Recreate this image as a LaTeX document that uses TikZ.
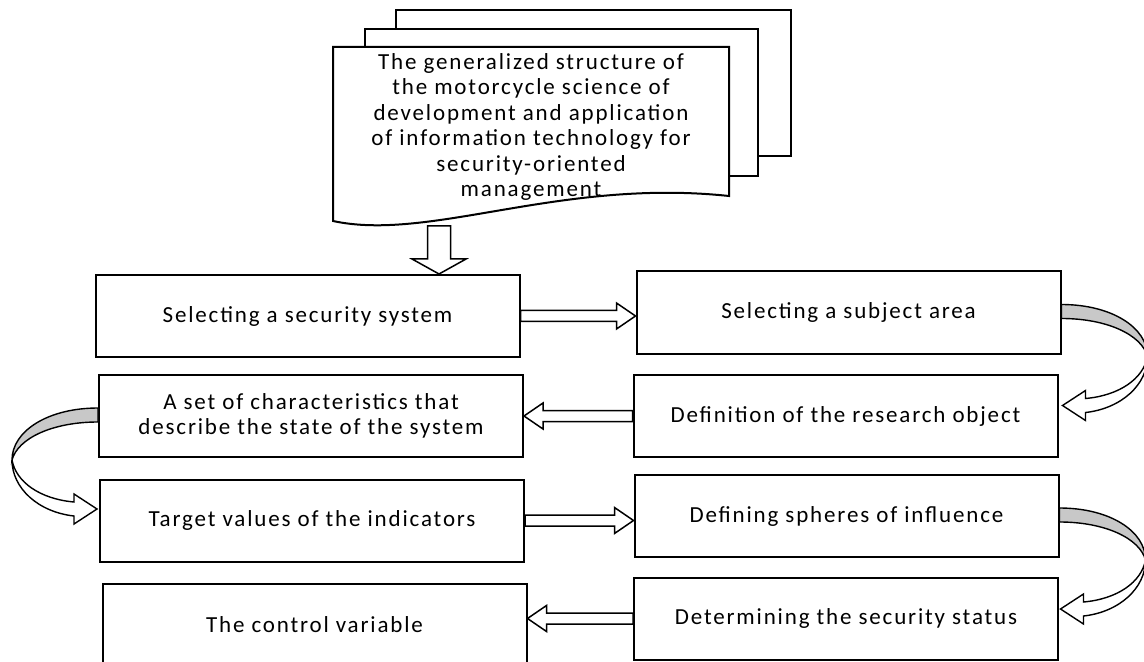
\documentclass[tikz,border=0pt]{standalone}
\usepackage{fontspec}
\setmainfont{Carlito}[LetterSpace=8]
\usetikzlibrary{calc}
\definecolor{bandgray}{RGB}{200,200,200}
\newcommand\boxfont{\fontsize{11.5pt}{12.7pt}\selectfont}
\tikzset{
  box/.style={draw, line width=1pt, minimum width=212pt, minimum height=41pt, inner sep=2pt, align=center, font=\boxfont},
  page/.style={draw, line width=1pt, fill=white},
  fat/.style n args={3}{draw, line width=0.75pt, fill=white, to path={
    let \p1=(\tikztostart), \p2=(\tikztotarget),
        \n1={veclen(\x2-\x1,\y2-\y1)}, \n2={(\x2-\x1)/\n1}, \n3={(\y2-\y1)/\n1} in
    ({\x1-\n3*#1},{\y1+\n2*#1})
    -- ({\x2-\n2*#3-\n3*#1},{\y2-\n3*#3+\n2*#1})
    -- ({\x2-\n2*#3-\n3*#2},{\y2-\n3*#3+\n2*#2})
    -- (\p2)
    -- ({\x2-\n2*#3+\n3*#2},{\y2-\n3*#3-\n2*#2})
    -- ({\x2-\n2*#3+\n3*#1},{\y2-\n3*#3-\n2*#1})
    -- ({\x1+\n3*#1},{\y1-\n2*#1}) -- cycle}},
  turn/.pic={
    \draw[line width=0.7pt, fill=bandgray] (0,-8) .. controls (50,-8) and (86,15) .. (86,44)
      .. controls (80,22) and (45,6) .. (0,6) -- cycle;
    \draw[line width=0.7pt, fill=white] (86,44) .. controls (86,72) and (60,96) .. (24,100)
      -- (24,108) -- (1,93) -- (24,78) -- (24,86) .. controls (58,83) and (82,66) .. (86,44) -- cycle;
  }
}
\begin{document}
\begin{tikzpicture}[x=0.5pt,y=-0.5pt]
\useasboundingbox (0,0) rectangle (1144,662);
% stack of documents
\draw[page] (396,10) rectangle (791,156);
\draw[page] (365,29) rectangle (758,176);
\draw[page] (333,47) -- (729,47) -- (729,196) .. controls (560,178) and (430,242) .. (333,221) -- cycle;
\node[align=center, font=\boxfont] (doc) at (531,127) {The generalized structure of\\the motorcycle science of\\development and application\\of information technology for\\security-oriented\\management};
\coordinate (docfoot) at (439,226);

% steps
\node[box] (b1) at (307.5,316) {Selecting a security system};
\node[box] (b2) at (848.5,312.5) {Selecting a subject area};
\node[box] (b3) at (845.5,416) {Definition of the research object};
\node[box] (b4) at (311,416) {A set of characteristics that\\describe the state of the system};
\node[box] (b5) at (312,520.5) {Target values of the indicators};
\node[box] (b6) at (846.5,516) {Defining spheres of influence};
\node[box] (b7) at (846,618.5) {Determining the security status};
\node[box] (b8) at (314.5,625) {The control variable};

% straight arrows
\draw[fat={5.75pt}{13.5pt}{7.5pt}] (docfoot) to (docfoot |- b1.north);
\draw[fat={2.75pt}{6.5pt}{9.5pt}] (b1.east) to (b1.east -| b2.west);
\draw[fat={2.75pt}{6.5pt}{9.5pt}] (b3.west) to (b3.west -| b4.east);
\draw[fat={2.75pt}{6.5pt}{9.5pt}] (b5.east) to (b5.east -| b6.west);
\draw[fat={2.75pt}{6.5pt}{9.5pt}] (b7.west) to (b7.west -| b8.east);

% turning arrows
\pic at (b2.east) {turn};
\pic[xscale=-1] at (b4.west) {turn};
\pic at (b6.east) {turn};
\end{tikzpicture}
\end{document}
